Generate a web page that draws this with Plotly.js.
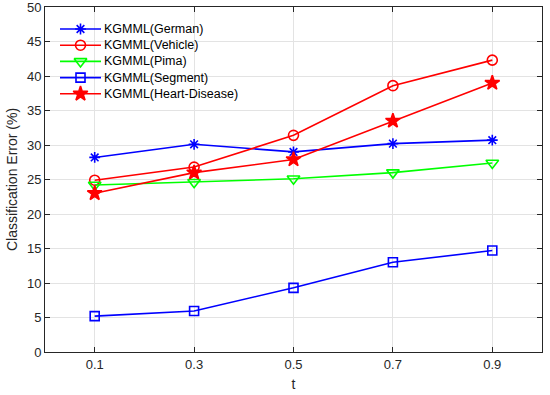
<!DOCTYPE html>
<html>
<head>
<meta charset="utf-8">
<script src="https://cdn.plot.ly/plotly-3.0.1.min.js"></script>
<style>html,body{margin:0;padding:0;background:#fff;}#chart{width:550px;height:395px;}</style>
</head>
<body>
<div id="chart"></div>
<script>
const tValues = [0.1, 0.3, 0.5, 0.7, 0.9];
const tickLabels = ["0.1", "0.3", "0.5", "0.7", "0.9"];
const german = [28.2, 30.1, 29.0, 30.2, 30.7];
const vehicle = [24.9, 26.8, 31.4, 38.6, 42.3];
const pima = [24.2, 24.6, 25.1, 26.0, 27.4];
const segment = [5.2, 5.95, 9.3, 13.0, 14.7];
const heartDisease = [23.0, 26.0, 27.9, 33.5, 39.0];
const seriesNames = ["KGMML(German)", "KGMML(Vehicle)", "KGMML(Pima)", "KGMML(Segment)", "KGMML(Heart-Disease)"];

const styles = [
  {color: "#0000ff", symbol: "asterisk-open", size: 9},
  {color: "#ff0000", symbol: "circle-open", size: 10},
  {color: "#00ff00", symbol: "triangle-down-open", size: 11},
  {color: "#0000ff", symbol: "square-open", size: 9},
  {color: "#ff0000", symbol: "star", size: 11}
];
const allSeries = [german, vehicle, pima, segment, heartDisease];

// plot area in pixels (margins)
const M = {l: 45, r: 8, t: 7, b: 43};
const W = 550, H = 395;

const traces = allSeries.map((ys, i) => ({
  x: tValues, y: ys, name: seriesNames[i], type: "scatter", mode: "lines+markers",
  showlegend: false,
  line: {color: styles[i].color, width: 1.6},
  marker: {symbol: styles[i].symbol, size: styles[i].size, color: styles[i].color,
           line: {color: styles[i].color, width: 1.6}}
}));

// Custom legend (compact row spacing, like MATLAB) drawn on a pixel-unit overlay axis
const leg = {row0: 29, step: 16.2, lineX0: 60, lineX1: 101, markX: 80.5, textX: 103,
             box: {x0: 46, x1: 245, y0: 15, y1: 104}};
const annotations = [];
seriesNames.forEach((name, i) => {
  const yy = leg.row0 + i * leg.step;
  traces.push({
    x: [leg.lineX0, leg.markX, leg.lineX1], y: [yy, yy, yy],
    xaxis: "x2", yaxis: "y2", type: "scatter", mode: "lines+markers", showlegend: false,
    line: {color: styles[i].color, width: 1.6},
    marker: {symbol: styles[i].symbol, size: styles[i].size, color: styles[i].color,
             opacity: [0, 1, 0], line: {color: styles[i].color, width: 1.6}}
  });
  annotations.push({
    x: leg.textX, y: yy, xref: "x2", yref: "y2", xanchor: "left", yanchor: "middle",
    showarrow: false, text: name, borderpad: 0,
    font: {family: "Liberation Sans, Arial, sans-serif", size: 12.5, color: "#000"}
  });
});

const font = {family: "Liberation Sans, Arial, sans-serif", size: 13, color: "#262626"};
const layout = {
  width: W, height: H,
  margin: M,
  paper_bgcolor: "#fff", plot_bgcolor: "#fff",
  font: font,
  showlegend: false,
  annotations: annotations,
  shapes: [{type: "rect", xref: "x2", yref: "y2", layer: "below",
            x0: leg.box.x0, x1: leg.box.x1, y0: leg.box.y0, y1: leg.box.y1,
            fillcolor: "#fff", line: {width: 0}}],
  xaxis: {
    range: [0, 1], tickvals: tValues, ticktext: tickLabels,
    showgrid: true, gridcolor: "#e3e3e3", gridwidth: 1,
    zeroline: false, showline: true, linecolor: "#262626", linewidth: 1, mirror: "allticks",
    ticks: "inside", ticklen: 5, tickcolor: "#262626",
    tickfont: {family: font.family, size: 13, color: "#262626"},
    title: {text: "t", font: {family: font.family, size: 14, color: "#262626"}, standoff: 8}
  },
  yaxis: {
    range: [0, 50], tickvals: [0,5,10,15,20,25,30,35,40,45,50],
    ticklabeloverflow: "allow",
    showgrid: true, gridcolor: "#e3e3e3", gridwidth: 1,
    zeroline: false, showline: true, linecolor: "#262626", linewidth: 1, mirror: "allticks",
    ticks: "inside", ticklen: 5, tickcolor: "#262626",
    tickfont: {family: font.family, size: 13, color: "#262626"},
    title: {text: "Classification Error (%)", font: {family: font.family, size: 14, color: "#262626"}, standoff: 6}
  },
  xaxis2: {overlaying: "x", anchor: "y2", range: [M.l, W - M.r], visible: false, showgrid: false, zeroline: false},
  yaxis2: {overlaying: "y", anchor: "x2", range: [H - M.b, M.t], visible: false, showgrid: false, zeroline: false}
};
Plotly.newPlot("chart", traces, layout, {displayModeBar: false, staticPlot: true});
</script>
</body>
</html>
